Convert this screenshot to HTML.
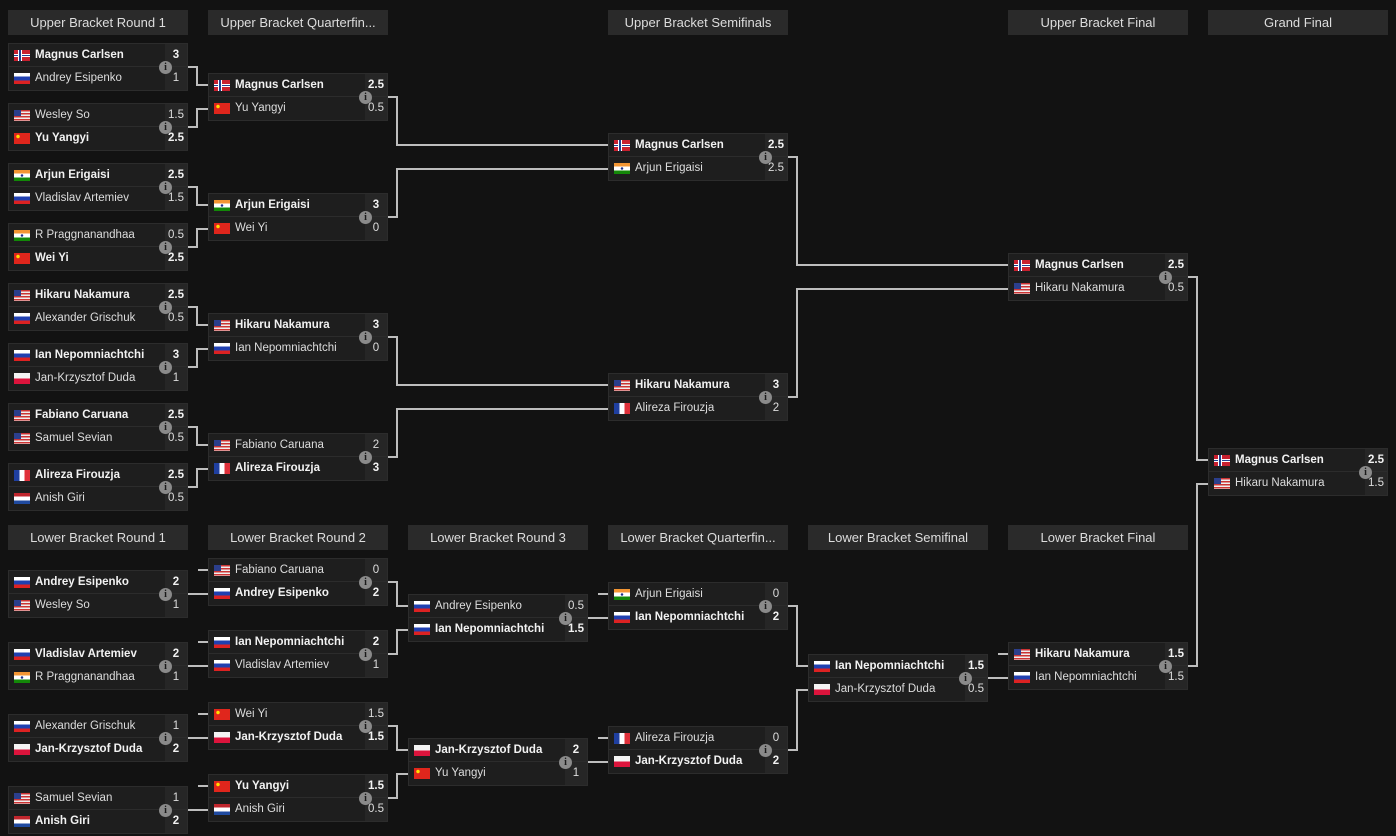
<!DOCTYPE html>
<html><head><meta charset="utf-8">
<style>
*{box-sizing:border-box;margin:0;padding:0}
body{width:1396px;height:836px;background:#121212;position:relative;overflow:hidden;font-family:"Liberation Sans",Arial,sans-serif;font-size:11.5px;color:#ddd}
.h{position:absolute;width:180px;height:25px;background:#2a2a2a;color:#ddd;font-size:13px;text-align:center;line-height:25px;white-space:nowrap;overflow:hidden}
.m{position:absolute;width:180px;height:48px;background:#1e1e1e;border:1px solid #2c2c2c}
.r{position:absolute;left:0;width:178px;height:23px;line-height:23px}
.r.a{top:0;border-bottom:1px solid #2c2c2c}
.r.b{top:23px}
.n{position:absolute;left:26px;top:0;white-space:nowrap}
.s{position:absolute;right:0;top:0;width:22px;height:100%;background:#262626;text-align:center}
.w{font-weight:bold;color:#f2f2f2}
.f{position:absolute;left:5px;top:6px;width:16px;height:11px}
.i{position:absolute;left:150px;top:17px;width:13px;height:13px;border-radius:50%;background:#8a8a8a;color:#1a1a1a;font-size:10px;font-weight:bold;line-height:13px;text-align:center;font-family:"Liberation Serif",serif;z-index:2}
.no{background:linear-gradient(90deg,transparent 4px,#fff 4px,#fff 5px,#1f3f8f 5px,#1f3f8f 7px,#fff 7px,#fff 8px,transparent 8px),linear-gradient(0deg,#c8202f 4px,#fff 4px,#fff 5px,#1f3f8f 5px,#1f3f8f 6px,#fff 6px,#fff 7px,#c8202f 7px)}
.ru{background:linear-gradient(#fff 0,#fff 33%,#2040b0 33%,#2040b0 66%,#d22 66%)}
.us{background:linear-gradient(#2c3f8c,#2c3f8c) 0 0/7px 6px no-repeat,repeating-linear-gradient(#c33 0,#c33 1.5px,#eee 1.5px,#eee 3px)}
.cn{background:radial-gradient(circle at 4px 3.5px,#ffde00 1.5px,transparent 2px),#e0261c}
.in{background:radial-gradient(circle,#1a2f88 1px,transparent 1.5px),linear-gradient(#f39633 33%,#fff 33%,#fff 66%,#138808 66%)}
.pl{background:linear-gradient(#f4f4f4 50%,#dc143c 50%)}
.fr{background:linear-gradient(90deg,#1f3fa0 33%,#fff 33%,#fff 66%,#e0303a 66%)}
.nl{background:linear-gradient(#c0262d 33%,#fff 33%,#fff 66%,#1f4aa0 66%)}
svg{position:absolute;left:0;top:0}
</style></head><body>
<svg width="1396" height="836"><g stroke="#bdbdbd" stroke-width="2" fill="none">
<path d="M188 67H197V85H208M188 127H197V109H208M188 187H197V205H208M188 247H197V229H208M188 307H197V325H208M188 367H197V349H208M188 427H197V445H208M188 487H197V469H208"/>
<path d="M388 97H397V145H608M388 217H397V169H608M388 337H397V385H608M388 457H397V409H608"/>
<path d="M788 157H797V265H1008M788 397H797V289H1008"/>
<path d="M1188 277H1197V460H1208M1188 666H1197V484H1208"/>
<path d="M188 594H208M188 666H208M188 738H208M188 810H208M198 570H208M198 642H208M198 714H208M198 786H208"/>
<path d="M388 582H397V606H408M388 654H397V630H408M388 726H397V750H408M388 798H397V774H408"/>
<path d="M588 618H608M588 762H608M598 594H608M598 738H608"/>
<path d="M788 606H797V666H808M788 750H797V690H808"/>
<path d="M988 678H1008M998 654H1008"/>
</g></svg>

<div class="h" style="left:8px;top:10px">Upper Bracket Round 1</div>
<div class="h" style="left:208px;top:10px">Upper Bracket Quarterfin...</div>
<div class="h" style="left:608px;top:10px">Upper Bracket Semifinals</div>
<div class="h" style="left:1008px;top:10px">Upper Bracket Final</div>
<div class="h" style="left:1208px;top:10px">Grand Final</div>
<div class="h" style="left:8px;top:525px">Lower Bracket Round 1</div>
<div class="h" style="left:208px;top:525px">Lower Bracket Round 2</div>
<div class="h" style="left:408px;top:525px">Lower Bracket Round 3</div>
<div class="h" style="left:608px;top:525px">Lower Bracket Quarterfin...</div>
<div class="h" style="left:808px;top:525px">Lower Bracket Semifinal</div>
<div class="h" style="left:1008px;top:525px">Lower Bracket Final</div>

<!-- UB R1 -->
<div class="m" style="left:8px;top:43px"><div class="r a"><span class="f no"></span><span class="n w">Magnus Carlsen</span><span class="s w">3</span></div><div class="r b"><span class="f ru"></span><span class="n">Andrey Esipenko</span><span class="s">1</span></div><div class="i">i</div></div>
<div class="m" style="left:8px;top:103px"><div class="r a"><span class="f us"></span><span class="n">Wesley So</span><span class="s">1.5</span></div><div class="r b"><span class="f cn"></span><span class="n w">Yu Yangyi</span><span class="s w">2.5</span></div><div class="i">i</div></div>
<div class="m" style="left:8px;top:163px"><div class="r a"><span class="f in"></span><span class="n w">Arjun Erigaisi</span><span class="s w">2.5</span></div><div class="r b"><span class="f ru"></span><span class="n">Vladislav Artemiev</span><span class="s">1.5</span></div><div class="i">i</div></div>
<div class="m" style="left:8px;top:223px"><div class="r a"><span class="f in"></span><span class="n">R Praggnanandhaa</span><span class="s">0.5</span></div><div class="r b"><span class="f cn"></span><span class="n w">Wei Yi</span><span class="s w">2.5</span></div><div class="i">i</div></div>
<div class="m" style="left:8px;top:283px"><div class="r a"><span class="f us"></span><span class="n w">Hikaru Nakamura</span><span class="s w">2.5</span></div><div class="r b"><span class="f ru"></span><span class="n">Alexander Grischuk</span><span class="s">0.5</span></div><div class="i">i</div></div>
<div class="m" style="left:8px;top:343px"><div class="r a"><span class="f ru"></span><span class="n w">Ian Nepomniachtchi</span><span class="s w">3</span></div><div class="r b"><span class="f pl"></span><span class="n">Jan-Krzysztof Duda</span><span class="s">1</span></div><div class="i">i</div></div>
<div class="m" style="left:8px;top:403px"><div class="r a"><span class="f us"></span><span class="n w">Fabiano Caruana</span><span class="s w">2.5</span></div><div class="r b"><span class="f us"></span><span class="n">Samuel Sevian</span><span class="s">0.5</span></div><div class="i">i</div></div>
<div class="m" style="left:8px;top:463px"><div class="r a"><span class="f fr"></span><span class="n w">Alireza Firouzja</span><span class="s w">2.5</span></div><div class="r b"><span class="f nl"></span><span class="n">Anish Giri</span><span class="s">0.5</span></div><div class="i">i</div></div>

<!-- UB QF -->
<div class="m" style="left:208px;top:73px"><div class="r a"><span class="f no"></span><span class="n w">Magnus Carlsen</span><span class="s w">2.5</span></div><div class="r b"><span class="f cn"></span><span class="n">Yu Yangyi</span><span class="s">0.5</span></div><div class="i">i</div></div>
<div class="m" style="left:208px;top:193px"><div class="r a"><span class="f in"></span><span class="n w">Arjun Erigaisi</span><span class="s w">3</span></div><div class="r b"><span class="f cn"></span><span class="n">Wei Yi</span><span class="s">0</span></div><div class="i">i</div></div>
<div class="m" style="left:208px;top:313px"><div class="r a"><span class="f us"></span><span class="n w">Hikaru Nakamura</span><span class="s w">3</span></div><div class="r b"><span class="f ru"></span><span class="n">Ian Nepomniachtchi</span><span class="s">0</span></div><div class="i">i</div></div>
<div class="m" style="left:208px;top:433px"><div class="r a"><span class="f us"></span><span class="n">Fabiano Caruana</span><span class="s">2</span></div><div class="r b"><span class="f fr"></span><span class="n w">Alireza Firouzja</span><span class="s w">3</span></div><div class="i">i</div></div>

<!-- UB SF -->
<div class="m" style="left:608px;top:133px"><div class="r a"><span class="f no"></span><span class="n w">Magnus Carlsen</span><span class="s w">2.5</span></div><div class="r b"><span class="f in"></span><span class="n">Arjun Erigaisi</span><span class="s">2.5</span></div><div class="i">i</div></div>
<div class="m" style="left:608px;top:373px"><div class="r a"><span class="f us"></span><span class="n w">Hikaru Nakamura</span><span class="s w">3</span></div><div class="r b"><span class="f fr"></span><span class="n">Alireza Firouzja</span><span class="s">2</span></div><div class="i">i</div></div>

<!-- UB F -->
<div class="m" style="left:1008px;top:253px"><div class="r a"><span class="f no"></span><span class="n w">Magnus Carlsen</span><span class="s w">2.5</span></div><div class="r b"><span class="f us"></span><span class="n">Hikaru Nakamura</span><span class="s">0.5</span></div><div class="i">i</div></div>

<!-- GF -->
<div class="m" style="left:1208px;top:448px"><div class="r a"><span class="f no"></span><span class="n w">Magnus Carlsen</span><span class="s w">2.5</span></div><div class="r b"><span class="f us"></span><span class="n">Hikaru Nakamura</span><span class="s">1.5</span></div><div class="i">i</div></div>

<!-- LB R1 -->
<div class="m" style="left:8px;top:570px"><div class="r a"><span class="f ru"></span><span class="n w">Andrey Esipenko</span><span class="s w">2</span></div><div class="r b"><span class="f us"></span><span class="n">Wesley So</span><span class="s">1</span></div><div class="i">i</div></div>
<div class="m" style="left:8px;top:642px"><div class="r a"><span class="f ru"></span><span class="n w">Vladislav Artemiev</span><span class="s w">2</span></div><div class="r b"><span class="f in"></span><span class="n">R Praggnanandhaa</span><span class="s">1</span></div><div class="i">i</div></div>
<div class="m" style="left:8px;top:714px"><div class="r a"><span class="f ru"></span><span class="n">Alexander Grischuk</span><span class="s">1</span></div><div class="r b"><span class="f pl"></span><span class="n w">Jan-Krzysztof Duda</span><span class="s w">2</span></div><div class="i">i</div></div>
<div class="m" style="left:8px;top:786px"><div class="r a"><span class="f us"></span><span class="n">Samuel Sevian</span><span class="s">1</span></div><div class="r b"><span class="f nl"></span><span class="n w">Anish Giri</span><span class="s w">2</span></div><div class="i">i</div></div>

<!-- LB R2 -->
<div class="m" style="left:208px;top:558px"><div class="r a"><span class="f us"></span><span class="n">Fabiano Caruana</span><span class="s">0</span></div><div class="r b"><span class="f ru"></span><span class="n w">Andrey Esipenko</span><span class="s w">2</span></div><div class="i">i</div></div>
<div class="m" style="left:208px;top:630px"><div class="r a"><span class="f ru"></span><span class="n w">Ian Nepomniachtchi</span><span class="s w">2</span></div><div class="r b"><span class="f ru"></span><span class="n">Vladislav Artemiev</span><span class="s">1</span></div><div class="i">i</div></div>
<div class="m" style="left:208px;top:702px"><div class="r a"><span class="f cn"></span><span class="n">Wei Yi</span><span class="s">1.5</span></div><div class="r b"><span class="f pl"></span><span class="n w">Jan-Krzysztof Duda</span><span class="s w">1.5</span></div><div class="i">i</div></div>
<div class="m" style="left:208px;top:774px"><div class="r a"><span class="f cn"></span><span class="n w">Yu Yangyi</span><span class="s w">1.5</span></div><div class="r b"><span class="f nl"></span><span class="n">Anish Giri</span><span class="s">0.5</span></div><div class="i">i</div></div>

<!-- LB R3 -->
<div class="m" style="left:408px;top:594px"><div class="r a"><span class="f ru"></span><span class="n">Andrey Esipenko</span><span class="s">0.5</span></div><div class="r b"><span class="f ru"></span><span class="n w">Ian Nepomniachtchi</span><span class="s w">1.5</span></div><div class="i">i</div></div>
<div class="m" style="left:408px;top:738px"><div class="r a"><span class="f pl"></span><span class="n w">Jan-Krzysztof Duda</span><span class="s w">2</span></div><div class="r b"><span class="f cn"></span><span class="n">Yu Yangyi</span><span class="s">1</span></div><div class="i">i</div></div>

<!-- LB QF -->
<div class="m" style="left:608px;top:582px"><div class="r a"><span class="f in"></span><span class="n">Arjun Erigaisi</span><span class="s">0</span></div><div class="r b"><span class="f ru"></span><span class="n w">Ian Nepomniachtchi</span><span class="s w">2</span></div><div class="i">i</div></div>
<div class="m" style="left:608px;top:726px"><div class="r a"><span class="f fr"></span><span class="n">Alireza Firouzja</span><span class="s">0</span></div><div class="r b"><span class="f pl"></span><span class="n w">Jan-Krzysztof Duda</span><span class="s w">2</span></div><div class="i">i</div></div>

<!-- LB SF -->
<div class="m" style="left:808px;top:654px"><div class="r a"><span class="f ru"></span><span class="n w">Ian Nepomniachtchi</span><span class="s w">1.5</span></div><div class="r b"><span class="f pl"></span><span class="n">Jan-Krzysztof Duda</span><span class="s">0.5</span></div><div class="i">i</div></div>

<!-- LB F -->
<div class="m" style="left:1008px;top:642px"><div class="r a"><span class="f us"></span><span class="n w">Hikaru Nakamura</span><span class="s w">1.5</span></div><div class="r b"><span class="f ru"></span><span class="n">Ian Nepomniachtchi</span><span class="s">1.5</span></div><div class="i">i</div></div>
</body></html>
